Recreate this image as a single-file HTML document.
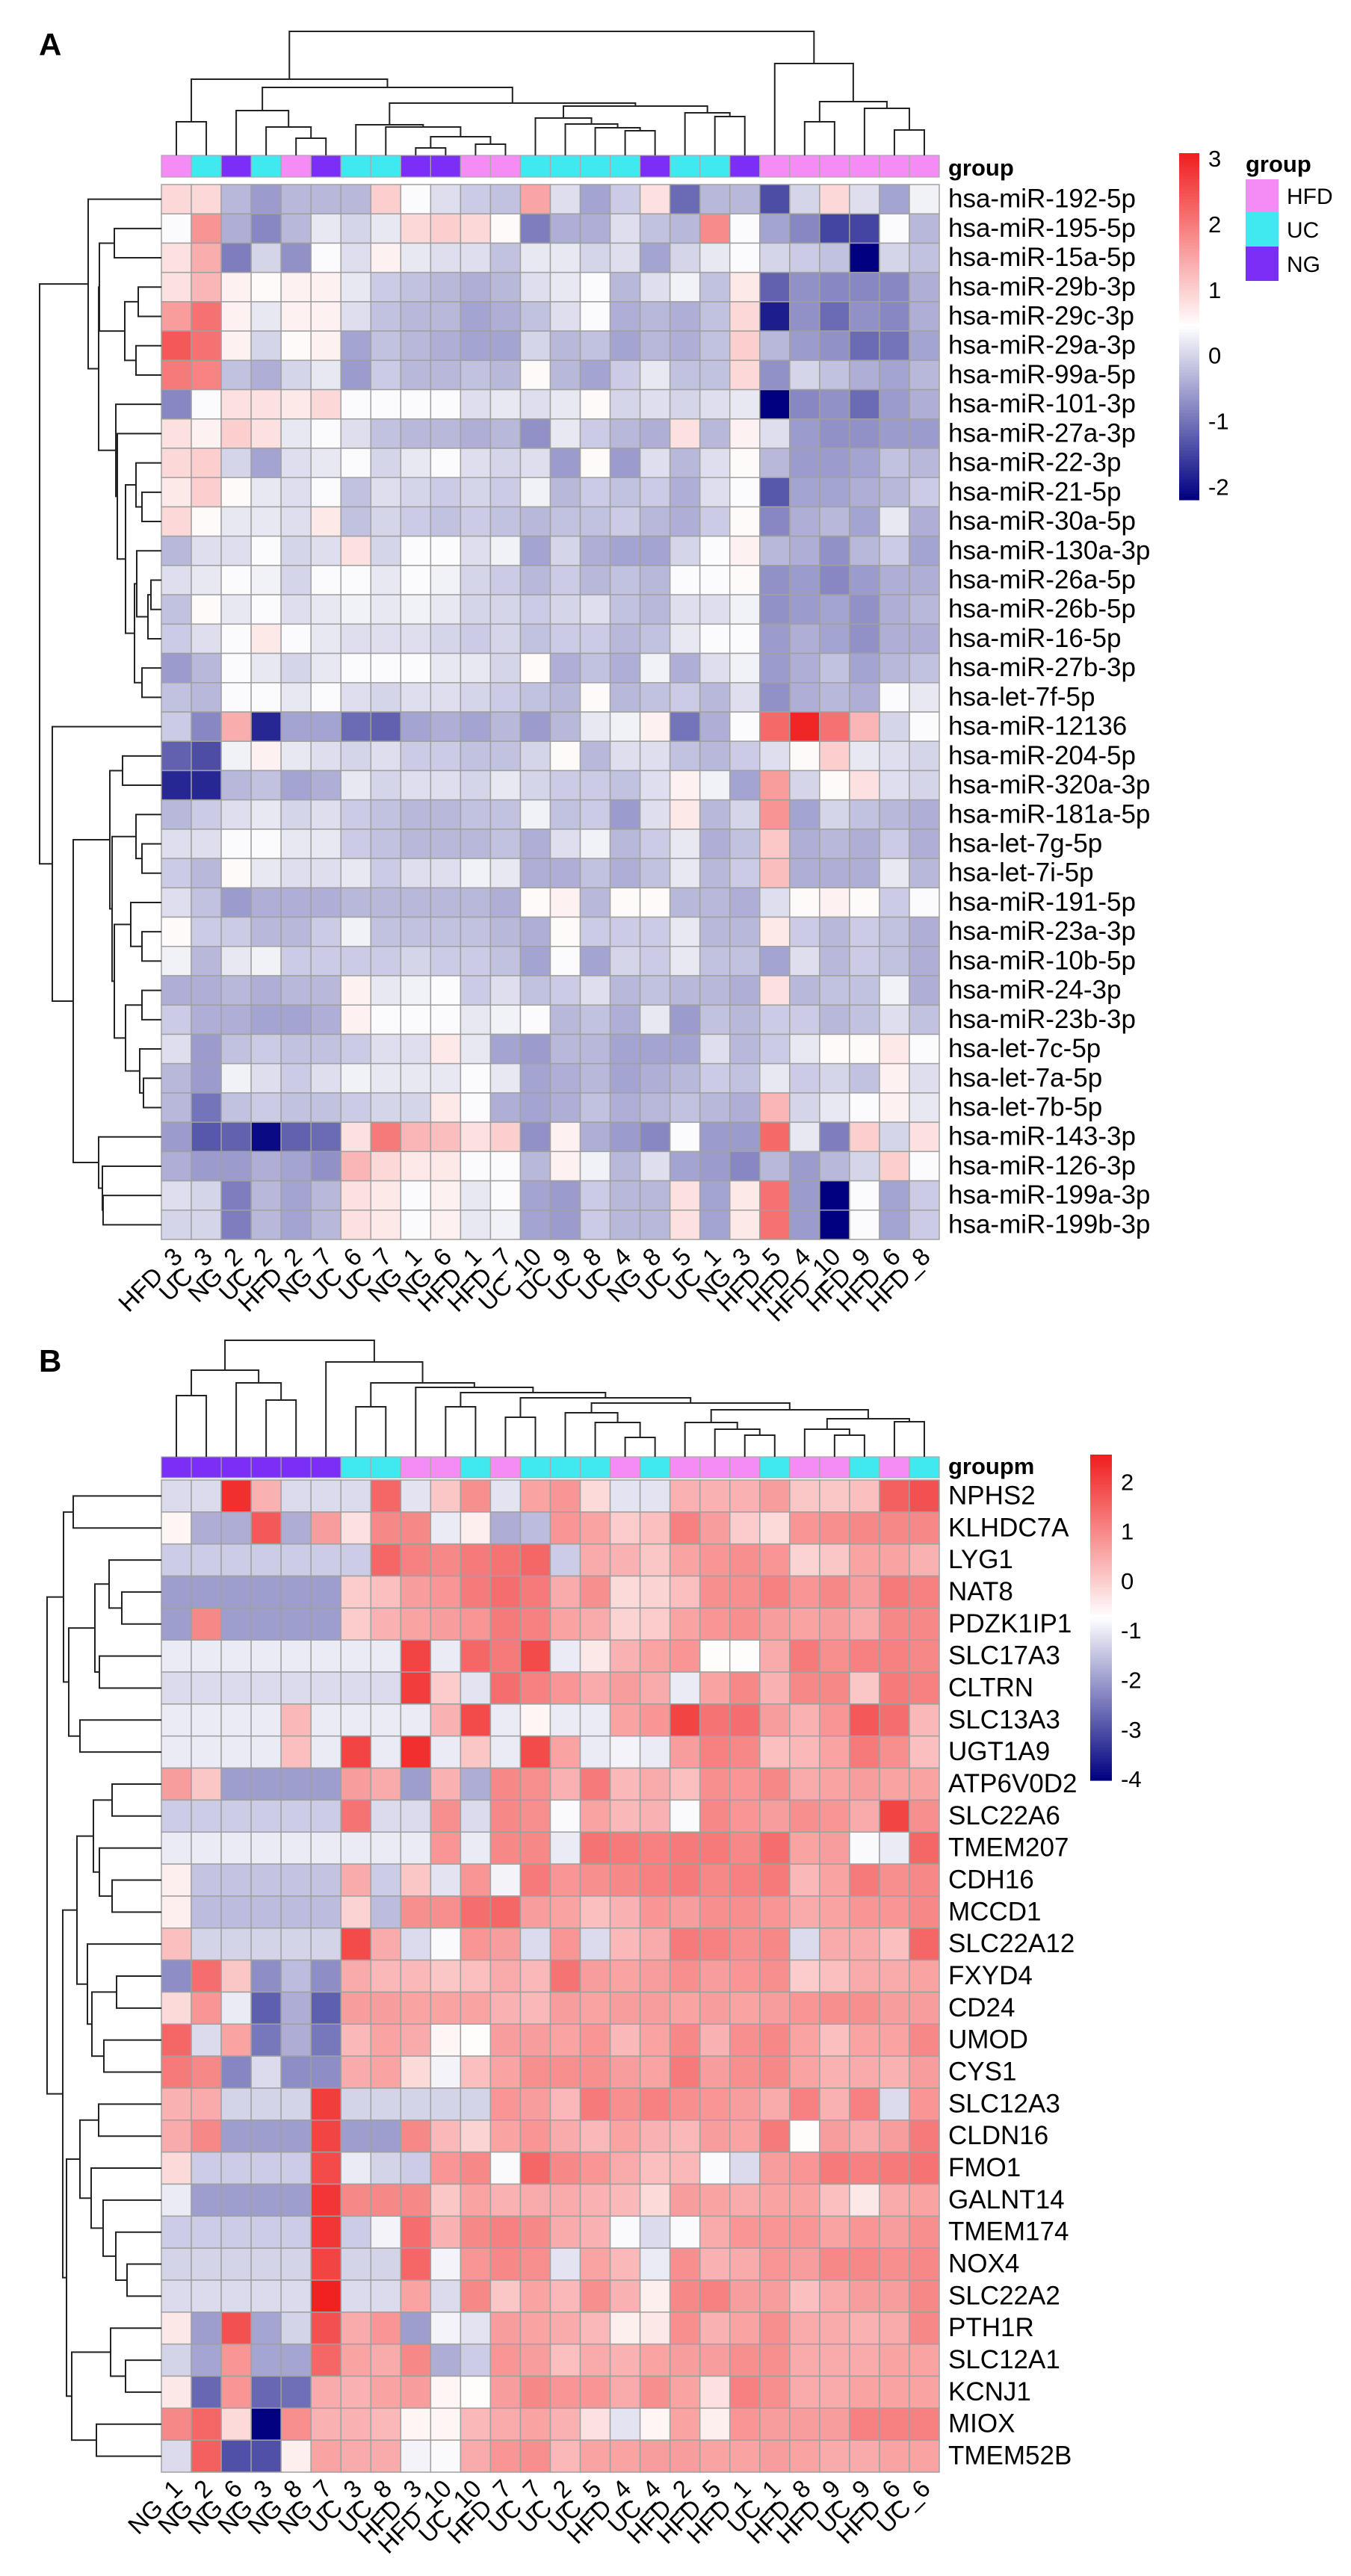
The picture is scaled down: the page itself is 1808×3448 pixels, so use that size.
<!DOCTYPE html>
<html><head><meta charset="utf-8"><style>
html,body{margin:0;padding:0;background:#fff;}
svg{display:block;font-family:"Liberation Sans",Arial,sans-serif;}
</style></head><body>
<svg id="fig" xmlns="http://www.w3.org/2000/svg" width="1808" height="3448" viewBox="0 0 1808 3448">
<rect x="0" y="0" width="1808" height="3448" fill="#fff"/>
<text x="52" y="74" font-size="42" font-weight="bold">A</text>
<text x="52" y="1836" font-size="42" font-weight="bold">B</text>
<text x="1269" y="235" font-size="31" font-weight="bold">group</text>
<text x="1269" y="1973" font-size="31" font-weight="bold">groupm</text>
<g>
<text x="1667" y="230" font-size="31" font-weight="bold">group</text>
<rect x="1667" y="240" width="44" height="44" fill="#F58CF5"/>
<rect x="1667" y="284" width="44" height="46" fill="#40E8F0"/>
<rect x="1667" y="330" width="44" height="46" fill="#7B2EF5"/>
<text x="1722" y="273" font-size="30">HFD</text>
<text x="1722" y="318" font-size="30">UC</text>
<text x="1722" y="364" font-size="30">NG</text>
</g>
</svg>
<script>
const colsA=["HFD_3","UC_3","NG_2","UC_2","HFD_2","NG_7","UC_6","UC_7","NG_1","NG_6","HFD_1","HFD_7","UC_10","UC_9","UC_8","UC_4","NG_8","UC_5","UC_1","NG_3","HFD_5","HFD_4","HFD_10","HFD_9","HFD_6","HFD_8"];
const rowsA=["hsa-miR-192-5p","hsa-miR-195-5p","hsa-miR-15a-5p","hsa-miR-29b-3p","hsa-miR-29c-3p","hsa-miR-29a-3p","hsa-miR-99a-5p","hsa-miR-101-3p","hsa-miR-27a-3p","hsa-miR-22-3p","hsa-miR-21-5p","hsa-miR-30a-5p","hsa-miR-130a-3p","hsa-miR-26a-5p","hsa-miR-26b-5p","hsa-miR-16-5p","hsa-miR-27b-3p","hsa-let-7f-5p","hsa-miR-12136","hsa-miR-204-5p","hsa-miR-320a-3p","hsa-miR-181a-5p","hsa-let-7g-5p","hsa-let-7i-5p","hsa-miR-191-5p","hsa-miR-23a-3p","hsa-miR-10b-5p","hsa-miR-24-3p","hsa-miR-23b-3p","hsa-let-7c-5p","hsa-let-7a-5p","hsa-let-7b-5p","hsa-miR-143-3p","hsa-miR-126-3p","hsa-miR-199a-3p","hsa-miR-199b-3p"];
const valsA=[
[.9,.9,-.3,-.6,-.3,-.3,-.3,1,.4,.1,-.1,-.2,1.5,.1,-.5,-.1,.8,-1.1,-.3,-.3,-1.4,0,.9,.1,-.5,.3],
[.4,1.7,-.4,-.8,-.3,.2,0,.2,.9,1,.9,.5,-.9,-.4,-.4,.1,-.2,-.3,1.8,.4,-.5,-.8,-1.5,-1.5,.4,-.3],
[.8,1.4,-.9,0,-.7,.4,.1,.6,.2,.1,.1,-.2,.2,.2,0,.1,-.5,0,.2,.4,0,-.1,-.2,-2.2,0,-.2],
[.8,1.3,.6,.5,.6,.6,.2,-.1,-.2,-.3,-.4,-.3,.1,.2,.4,-.3,.1,.3,-.2,.7,-1.2,-.7,-.8,-.8,-.8,-.4],
[1.6,2.1,.6,.2,.6,.6,.1,-.2,-.3,-.3,-.5,-.4,-.2,.1,.4,-.4,-.3,-.4,-.2,.9,-1.9,-.7,-1.1,-.7,-.8,-.4],
[2.4,2.1,.6,0,.5,.6,-.5,-.2,-.3,-.4,-.5,-.5,0,-.3,-.2,-.5,-.3,-.4,-.2,1,-.3,-.6,-.7,-1.1,-1,-.5],
[2,1.9,-.2,-.4,0,.2,-.6,-.1,-.3,-.3,-.2,-.3,.5,-.3,-.5,-.1,.2,-.2,-.2,.9,-.7,0,-.2,-.4,-.5,-.3],
[-.8,.4,.8,.8,.7,.9,.4,.4,.4,.4,.1,.2,.1,.2,.5,0,.1,0,.1,.2,-2.2,-.8,-.7,-1.1,-.6,-.4],
[.8,.6,1,.8,.2,.4,.1,-.2,-.3,-.3,-.4,-.3,-.7,.2,-.1,-.3,-.4,.8,-.3,.6,.1,-.6,-.7,-.7,-.6,-.6],
[.9,1,0,-.5,.1,.2,.4,0,.2,.4,.1,0,.1,-.6,.5,-.6,.1,-.3,.1,.5,-.3,-.6,-.6,-.5,-.2,-.3],
[.7,1,.5,.2,.1,.4,-.2,.1,0,-.1,0,-.1,.3,-.3,-.1,-.2,-.1,-.4,.1,.4,-1.3,-.5,-.5,-.4,-.3,-.1],
[.9,.5,.2,.2,.1,.7,-.2,0,-.1,-.2,-.1,-.2,-.3,-.2,-.2,-.1,-.3,-.4,-.1,.5,-.8,-.4,-.3,-.5,.2,-.4],
[-.3,.1,.1,.4,0,.1,.8,0,.4,.4,.1,.3,-.5,0,-.4,-.5,-.5,0,.4,.6,-.3,-.4,-.7,-.3,-.1,-.5],
[.1,.2,.4,.3,0,.4,.4,.2,.4,.3,0,-.1,-.3,-.1,-.3,-.2,-.3,.4,.4,.5,-.7,-.6,-.8,-.6,-.4,-.4],
[-.2,.5,.2,.4,.1,.2,.3,.2,.3,.2,0,0,-.1,0,.1,-.2,-.3,.1,.1,.3,-.7,-.6,-.5,-.7,-.4,-.3],
[-.1,.1,.4,.7,.4,.2,.1,.1,.1,0,-.1,0,-.2,-.1,-.1,-.3,-.2,.2,.4,.4,-.6,-.4,-.5,-.7,-.4,-.4],
[-.6,-.3,.4,.2,0,.2,.4,.4,.4,.2,.2,0,.5,-.4,-.2,-.4,.3,-.4,.1,.3,-.6,-.4,-.2,-.5,-.3,-.2],
[-.2,-.3,.4,.4,.2,.4,.1,0,.1,.1,0,-.1,-.2,-.3,.5,-.3,-.2,-.1,-.3,.1,-.7,-.4,-.3,-.4,.4,.2],
[-.1,-.8,1.4,-1.8,-.5,-.5,-1.1,-1.2,-.5,-.4,-.5,-.3,-.6,-.3,.2,.3,.6,-1,-.4,.4,2.2,3,2.1,1.3,0,.4],
[-1.2,-1.4,.3,.6,.2,.1,0,.1,-.1,-.1,-.2,-.2,0,.5,-.3,.1,.1,-.2,-.3,-.1,.1,.5,1,.2,.1,0],
[-1.8,-1.8,-.3,-.2,-.5,-.4,.2,0,.1,.1,0,.2,0,-.1,-.1,-.2,.1,.6,.3,-.5,1.6,0,.5,.8,.1,0],
[-.3,-.1,.1,.2,0,.1,-.1,-.2,-.3,-.3,-.2,-.2,.3,-.2,-.1,-.6,.1,.7,-.3,0,1.7,-.5,0,-.2,-.3,-.4],
[.1,.1,.4,.4,.2,.2,-.1,-.2,-.3,-.3,-.3,-.2,-.4,.1,.3,-.3,-.1,.2,-.4,-.2,1.1,-.4,-.3,-.4,-.1,-.4],
[-.1,-.3,.5,.2,.1,.1,.2,-.1,.1,.1,.3,.2,-.4,-.4,-.2,-.4,-.2,.2,-.3,-.1,1.2,-.4,-.4,-.4,.2,-.3],
[.1,-.2,-.6,-.4,-.4,-.4,-.3,-.3,-.3,-.3,-.3,-.4,.5,.6,-.3,.5,.5,-.3,-.3,-.4,.1,.5,.6,.5,-.1,.4],
[.5,-.1,-.1,-.3,-.3,-.1,.3,-.2,-.2,-.2,-.2,-.3,-.4,.5,-.1,-.1,-.1,.2,-.3,-.3,.7,-.1,-.3,-.1,-.2,-.4],
[.3,-.3,.2,.3,-.1,-.1,-.1,-.1,0,-.1,-.1,-.2,-.5,.4,-.5,0,-.1,.2,-.2,-.2,-.5,.1,-.3,-.1,-.2,-.4],
[-.4,-.4,-.3,-.4,-.3,-.3,.6,.2,.3,.4,-.1,.1,-.2,-.1,.1,-.3,-.2,-.3,-.3,-.4,.8,-.3,-.2,-.2,.3,-.4],
[-.1,-.4,-.4,-.5,-.5,-.4,.6,.4,.4,.4,.2,.3,.4,-.3,-.2,-.4,.2,-.6,-.2,-.3,-.1,-.1,-.3,-.2,.1,-.2],
[.1,-.6,-.2,-.1,-.2,-.2,-.1,.1,.1,.7,.2,-.5,-.6,-.3,-.3,-.5,-.5,-.5,.1,-.3,-.1,.2,.5,.5,.7,.4],
[-.3,-.6,.3,.1,-.1,.1,.3,.2,.2,.2,.4,.2,-.5,-.4,-.3,-.5,-.4,-.3,-.1,-.2,.2,-.1,0,-.2,.6,.1],
[-.3,-1,-.2,-.1,-.2,-.2,-.1,0,0,.7,.4,-.4,-.5,-.4,-.2,-.4,-.3,-.2,-.3,-.4,1.3,0,.2,.4,.6,.2],
[-.6,-1.3,-1.2,-2.1,-1.2,-1.1,.8,2,1.3,1.2,.8,1,-.7,.6,-.4,-.6,-.8,.4,-.6,-.6,2.2,.2,-.9,1,0,.8],
[-.4,-.6,-.6,-.4,-.5,-.7,1.3,.9,.7,.7,.4,.4,-.3,.6,.3,-.3,.1,-.5,-.6,-.8,-.3,-.6,-.3,0,1,.4],
[.1,0,-.9,-.3,-.5,-.3,.8,.7,.4,.6,.2,.4,-.5,-.6,-.1,-.3,-.3,.8,-.5,.7,2.1,-.6,-2.2,.4,-.5,-.1],
[0,0,-.9,-.3,-.5,-.3,.8,.7,.4,.6,.2,.3,-.5,-.6,-.1,-.3,-.3,.8,-.5,.7,2.1,-.6,-2.2,.4,-.5,-.1]];
const ticksA=[3,2,1,0,-1,-2];
const rangeA=[-2.2,3.08];
const colsB=["NG_1","NG_2","NG_6","NG_3","NG_8","NG_7","UC_3","UC_8","HFD_3","HFD_10","UC_10","HFD_7","UC_7","UC_2","UC_5","HFD_4","UC_4","HFD_2","HFD_5","HFD_1","UC_1","HFD_8","HFD_9","UC_9","HFD_6","UC_6"];
const rowsB=["NPHS2","KLHDC7A","LYG1","NAT8","PDZK1IP1","SLC17A3","CLTRN","SLC13A3","UGT1A9","ATP6V0D2","SLC22A6","TMEM207","CDH16","MCCD1","SLC22A12","FXYD4","CD24","UMOD","CYS1","SLC12A3","CLDN16","FMO1","GALNT14","TMEM174","NOX4","SLC22A2","PTH1R","SLC12A1","KCNJ1","MIOX","TMEM52B"];
const valsB=[
[-1.2,-1.2,2.3,.4,-1.2,-1.2,-1.2,1.5,-1.1,.1,.9,-1.1,.6,.8,-.2,-1.1,-1.1,.4,.4,.4,.7,.1,.1,.2,1.6,1.8],
[-.6,-1.8,-1.8,1.7,-1.8,.7,-.3,1,1,-1,-.5,-1.8,-1.6,.8,.6,0,.2,1.1,.7,0,-.2,.8,.9,1,1,1],
[-1.4,-1.4,-1.4,-1.4,-1.4,-1.4,-1.4,1.5,1.1,1,1.2,1.3,1.5,-1.4,.5,.4,.1,.6,.8,.9,.8,-.1,.1,.6,.6,.4],
[-2,-2,-2,-2,-2,-2,0,.2,.7,.8,1.2,1.4,1.2,.5,.9,-.2,-.1,.2,.9,.9,1.1,.8,1,.7,1.2,1.1],
[-2,1,-2,-2,-2,-2,0,.4,.6,.7,.8,1.2,1.1,.6,.5,-.1,0,.6,.8,.9,.7,.6,.7,.5,1,1],
[-1,-1,-1,-1,-1,-1,-1,-1,2,-1,1.5,1.2,1.9,-1,-.4,.4,.6,.8,-.7,-.7,.5,1.2,.9,1.1,1.1,1],
[-1.2,-1.2,-1.2,-1.2,-1.2,-1.2,-1.2,-1.2,2.1,0,-1.1,1.4,1.1,.8,.5,.7,.5,-1,.6,1,.4,1,1,.1,1.2,1.1],
[-1,-1,-1,-1,.3,-1,-1,-1,-1,.4,1.9,-1,-.6,-1,-1,.6,.8,2,1.3,1.4,.7,.4,.8,1.7,1.4,.3],
[-1,-1,-1,-1,.2,-1,2,-1,2.3,-1,.1,-1,1.9,.6,-1,-.9,-1,.7,1.1,1,.2,.3,.6,1.2,.9,.2],
[.7,.1,-2,-2,-2,-2,.7,.5,-2,.4,-1.8,1,.9,.4,1.2,.3,.5,.2,.9,.8,1,.5,.6,.7,.6,.6],
[-1.4,-1.4,-1.4,-1.4,-1.4,-1.4,1.3,-1.2,-1.2,.9,-1.2,1,.9,-.8,.6,.3,.4,-.8,1,.8,.7,.9,.8,.5,2,.9],
[-1,-1,-1,-1,-1,-1,-1,-1,-1,.8,-1,1,1,-1,1.3,1.2,1.1,1.2,1.2,1,1.4,.6,.7,-.8,-1,1.5],
[-.5,-1.5,-1.5,-1.5,-1.5,-1.5,.5,-1.4,.1,-1.1,.8,-.9,1.2,.8,.9,1,1.1,1.2,1,1.1,1.2,.3,.6,1.2,.9,1],
[-.5,-1.6,-1.6,-1.6,-1.6,-1.6,-.1,-1.6,.9,.9,1.4,1.5,.7,.6,.2,.4,.8,.7,.9,.9,.8,.5,.6,.8,.8,1],
[.2,-1.3,-1.3,-1.3,-1.3,-1.3,1.9,.5,-1.2,-.8,.8,.7,-1.2,.8,-1.2,.3,.5,1.2,1.1,.9,1,-1.2,.5,.5,.2,1.5],
[-2.2,1.4,.1,-2.2,-1.6,-2.2,.5,.3,.3,.1,.2,.5,.3,1.3,.7,.6,.7,.9,.7,.8,.9,0,.2,.5,.5,.6],
[-.2,.8,-1,-2.8,-1.8,-2.8,.7,.7,.6,.6,.6,.4,.3,.7,.6,.7,.7,.6,.7,.6,.7,.8,.9,.9,.7,.7],
[1.5,-1.2,.6,-2.5,-1.8,-2.5,.3,.6,.5,-.6,-.7,.7,.7,.6,.8,.3,.6,1,.4,.9,1,.6,.2,.6,.6,1],
[1.2,1,-2.3,-1.2,-2.2,-2.2,.5,.6,-.2,-.9,.2,.6,.9,.9,.9,.7,.6,1.2,.7,.9,1,.6,.4,.5,.4,.7],
[.4,.5,-1.3,-1.3,-1.3,2.1,-1.3,-1.3,-1.3,-1.3,-1.3,.8,.7,.3,1.2,.9,1.1,.9,.8,.7,.5,1.1,.4,1.1,-1.2,.8],
[.5,1,-2,-2,-2,2,-2,-2,1,.3,-.1,.6,.8,.5,.3,.6,.4,.3,.7,.6,1.2,-.7,.7,.5,.7,1.2],
[-.2,-1.4,-1.4,-1.4,-1.4,1.9,-1,-1.3,-1.4,.8,1,-.8,1.5,1,.8,.5,.2,.3,-.8,-1.2,.7,.8,1.2,1.1,1.2,1.3],
[-1,-2,-2,-2,-2,2.2,1,1,1,.1,.6,.4,.5,.5,.4,.3,-.2,.7,.6,.5,.6,.6,.2,-.4,.5,.6],
[-1.4,-1.4,-1.4,-1.4,-1.4,2.2,-1.4,-.9,1.4,.4,1,1.1,1,.5,.4,-.8,-1.2,-.8,.5,.8,.8,.8,.6,.8,.7,.9],
[-1.3,-1.3,-1.3,-1.3,-1.3,2,-1.3,-1.3,1.5,-.9,.8,1,.9,-1.1,.6,.3,-1,.9,.4,.5,.8,.7,1,1,.9,1],
[-1.2,-1.2,-1.2,-1.2,-1.2,2.5,-1.2,-1.2,.6,-1.2,1,.1,.6,.3,.9,.4,-.5,1,1.1,.7,.7,.2,.5,.7,.7,1],
[-.4,-2,1.8,-1.9,-1.3,1.8,.5,.8,-2,-.9,-1.1,.7,.6,.5,.3,-.5,-.4,.9,.4,.6,.9,.5,.5,.4,.5,1],
[-1.3,-1.9,.8,-1.9,-1.9,1.5,.6,.5,1,-1.8,-1.4,.8,.7,.2,.5,.4,.6,.7,.7,.9,.9,.5,.5,.5,.6,.6],
[-.4,-2.7,.8,-2.7,-2.6,.5,.4,.6,.7,-.6,-.7,.7,1,.8,.8,.5,.9,.6,-.3,1.1,.9,.5,.5,.6,.6,.6],
[1,1.5,-.2,-4,.9,.4,.4,.3,-.6,-.6,.3,.5,.6,.4,-.3,-1.1,-.6,.6,-.5,.8,.7,.7,.7,1.1,1.1,1.1],
[-1.2,1.6,-3,-3,-.5,.6,.5,.5,-.9,-.8,.5,.8,.9,.3,.6,.6,.7,.7,.6,.6,.7,.6,.5,.5,.6,.6]];
const ticksB=[2,1,0,-1,-2,-3,-4];
const rangeB=[-4.03,2.55];
// dendrogram merge heights: [height, left, right]; leaves are indices
const treeColA=[166,[102,[45,0,1],[91,[60,2,[38,3,[23,4,5]]],[70,[41,6,[38,7,[25,[10,8,9],[15,10,11]]]],[66,[50,12,[42,13,[37,14,[33,15,16]]]],[57,17,[52,18,19]]]]]],[123,20,[72,[45,21,22],[63,23,[34,24,25]]]]];
const treeRowA=[163,[98,0,[84,[83,[63,1,2],[49,[31,3,4],[34,5,6]]],[61,7,[59,8,[48,[34,9,[26,10,11]],[36,[33,12,[18,[14,13,14],15]],[26,16,17]]]]]]],[146,18,[118,[69,[52,19,20],[66,[34,21,[26,22,23]],[63,[41,24,[26,25,26]],[48,[26,27,28],[29,29,[24,30,31]]]]]],[84,32,[79,33,[78,34,35]]]]]];
const treeColB=[156,[116,[82,0,1],[99,2,[76,3,4]]],[127,5,[99,[67,6,7],[93,8,[86,[67,9,10],[79,[53,11,12],[72,[59,13,[46,14,[26,15,16]]],[63,[46,17,[37,18,[29,19,20]]],[51,[37,21,[29,22,23]],[47,24,25]]]]]]]]]];
const treeRowB=[153,[131,[118,0,1],[124,[89,[70,2,[53,3,4]],[83,5,6]],[109,7,8]]],[132,[113,[91,[66,9,10],[83,11,[66,12,13]]],[99,14,[93,[60,15,16],[77,17,18]]]],[127,[109,[84,19,20],[94,21,[78,22,[61,23,[46,24,25]]]]],[120,[68,26,[48,27,28]],[87,29,30]]]]];

const NS="http://www.w3.org/2000/svg";
const svg=document.getElementById("fig");
const groupColor={HFD:"#F58CF5",UC:"#40E8F0",NG:"#7B2EF5"};
function mk(tag,attrs,parent){const e=document.createElementNS(NS,tag);for(const k in attrs)e.setAttribute(k,attrs[k]);(parent||svg).appendChild(e);return e;}
function colorScale(range){
  const lo=range[0],hi=range[1],mid=(lo+hi)/2;
  const navy=[0,0,128],white=[255,255,255],red=[240,30,30];
  return function(v){
    let a,b,t;
    if(v<=mid){a=navy;b=white;t=(v-lo)/(mid-lo);}else{a=white;b=red;t=(v-mid)/(hi-mid);}
    t=Math.max(0,Math.min(1,t));
    return "rgb("+a.map((c,i)=>Math.round(c+(b[i]-c)*t)).join(",")+")";
  };
}
function layout(node,pos,out){
  if(typeof node==="number"){return {p:pos(node),h:0};}
  const L=layout(node[1],pos,out),R=layout(node[2],pos,out);
  out.push({h:node[0],L:L,R:R});
  return {p:(L.p+R.p)/2,h:node[0]};
}
function drawPanel(o){
  const g=mk("g",{});
  
  
  const nc=o.cols.length,nr=o.rows.length;
  const cw=o.w/nc,ch=o.h/nr;
  const col=colorScale(o.range);
  const xC=j=>o.x0+cw*(j+0.5), yC=i=>o.y0+ch*(i+0.5);
  // group bar
  for(let j=0;j<nc;j++){
    const grp=o.cols[j].split("_")[0];
    const r=mk("rect",{x:o.x0+j*cw,y:o.barY,width:cw,height:o.barH,fill:groupColor[grp],stroke:"#a8a8a8","stroke-width":1.2},g);
    
    
  }
  // cells
  for(let i=0;i<nr;i++)for(let j=0;j<nc;j++){
    const r=mk("rect",{x:o.x0+j*cw,y:o.y0+i*ch,width:cw,height:ch,fill:col(o.vals[i][j]),stroke:"#a0a0a0","stroke-width":1.5},g);
    
    
  }
  // row labels
  for(let i=0;i<nr;i++){
    const t=mk("text",{x:o.x0+o.w+12,y:yC(i)+11,"font-size":o.fs},g);
    t.textContent=o.rows[i];
    
    
  }
  // column labels
  for(let j=0;j<nc;j++){
    const cx=xC(j)+10,cy=o.labY;
    const t=mk("text",{x:cx,y:cy,"font-size":o.cfs,"text-anchor":"end",transform:"rotate(-45 "+cx+" "+cy+")"},g);
    t.textContent=o.cols[j];
    
    
  }
  // column dendrogram
  const cl=[];layout(o.colTree,xC,cl);
  let d="";
  cl.forEach(n=>{const yN=o.barY-n.h;
    d+="M"+n.L.p+" "+(o.barY-n.L.h)+"V"+yN+"H"+n.R.p+"V"+(o.barY-n.R.h);});
  const p1=mk("path",{d:d,fill:"none",stroke:"#222","stroke-width":2},g);
  
  
  // row dendrogram
  const rl=[];layout(o.rowTree,yC,rl);
  d="";
  rl.forEach(n=>{const xN=o.x0-n.h;
    d+="M"+(o.x0-n.L.h)+" "+n.L.p+"H"+xN+"V"+n.R.p+"H"+(o.x0-n.R.h);});
  const p2=mk("path",{d:d,fill:"none",stroke:"#222","stroke-width":2},g);
  
  
  // colorbar
  const cb=o.cb;const steps=120;
  const yOf=v=>cb.y0+(o.range[1]-v)/(o.range[1]-o.range[0])*cb.h;
  for(let s=0;s<steps;s++){
    const v=o.range[1]-(s+0.5)/steps*(o.range[1]-o.range[0]);
    const r=mk("rect",{x:cb.x,y:cb.y0+s*cb.h/steps,width:cb.w,height:cb.h/steps+0.6,fill:col(v)},g);
    
    
  }
  o.ticks.forEach(v=>{
    const t=mk("text",{x:cb.x+cb.w+12,y:yOf(v)+11,"font-size":31},g);
    t.textContent=String(v);
    
    
  });
}
drawPanel({name:"heatmap-a",cols:colsA,rows:rowsA,vals:valsA,range:rangeA,ticks:ticksA,
  x0:216,y0:247,w:1041,h:1412,barY:208,barH:29,fs:35,cfs:33,labY:1684,
  colTree:treeColA,rowTree:treeRowA,cb:{x:1578,y0:205,w:27,h:464}});
drawPanel({name:"heatmap-b",cols:colsB,rows:rowsB,vals:valsB,range:rangeB,ticks:ticksB,
  x0:216,y0:1981,w:1041,h:1328,barY:1950,barH:28,fs:35,cfs:33,labY:3333,
  colTree:treeColB,rowTree:treeRowB,cb:{x:1459,y0:1947,w:29,h:436}});
</script>
</body></html>
